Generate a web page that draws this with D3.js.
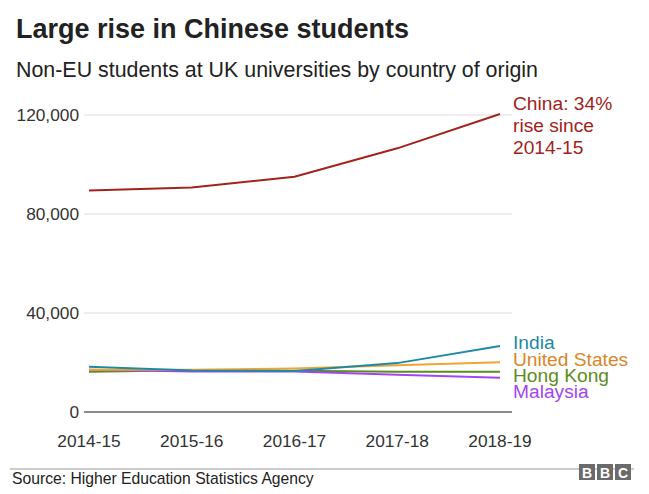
<!DOCTYPE html>
<html><head><meta charset="utf-8">
<script src="https://cdn.jsdelivr.net/npm/d3@7"></script>
<style>body{margin:0;background:#fff;font-family:"Liberation Sans",Arial,sans-serif;}</style>
</head><body><svg id="c" width="649" height="494"></svg>
<script>
const years = ["2014-15","2015-16","2016-17","2017-18","2018-19"];
const china = [89540, 90735, 95090, 106530, 120385];
const india = [18320, 16745, 16550, 19750, 26685];
const usa = [17060, 17115, 17580, 18885, 20120];
const hongKong = [16215, 16895, 16690, 16290, 16255];
const malaysia = [17060, 16370, 16370, 15015, 13885];
const yTicks = [0, 40000, 80000, 120000];

const series = [
  {name:"Hong Kong", values:hongKong, color:"#5b8c1c", label:["Hong Kong"], ly:382},
  {name:"Malaysia", values:malaysia, color:"#a346f0", label:["Malaysia"], ly:398},
  {name:"United States", values:usa, color:"#f0a532", lcolor:"#d9862a", label:["United States"], ly:366},
  {name:"India", values:india, color:"#1e8aa6", label:["India"], ly:349},
  {name:"China", values:china, color:"#a2231b", label:["China: 34%","rise since","2014-15"], ly:110}
];

const svg = d3.select("#c");
const x = d3.scalePoint().domain(years).range([89, 500]);
const y = d3.scaleLinear().domain([0, 120000]).range([412, 115]);

svg.append("text").attr("x",16).attr("y",38).attr("font-size",27).attr("font-weight","bold").attr("fill","#222").text("Large rise in Chinese students");
svg.append("text").attr("x",16).attr("y",77).attr("font-size",21.4).attr("fill","#222").text("Non-EU students at UK universities by country of origin");

const g = svg.append("g");
yTicks.forEach(t=>{
  g.append("line").attr("x1",84).attr("x2",512).attr("y1",y(t)).attr("y2",y(t))
   .attr("stroke", t===0 ? "#666" : "#dcdcdc").attr("stroke-width", t===0?1.3:1);
  g.append("text").attr("x",79).attr("y",y(t)+6).attr("text-anchor","end").attr("font-size",17.3).attr("fill","#333")
   .text(d3.format(",")(t));
});
years.forEach(yr=>{
  g.append("text").attr("x",x(yr)).attr("y",447).attr("text-anchor","middle").attr("font-size",17.3).attr("fill","#333").text(yr);
});

const line = d3.line().x((d,i)=>x(years[i])).y(d=>y(d));
series.forEach(s=>{
  svg.append("path").attr("d",line(s.values)).attr("fill","none").attr("stroke",s.color).attr("stroke-width",2);
  const t = svg.append("text").attr("x",513).attr("y",s.ly).attr("font-size",19.2).attr("fill",s.lcolor||s.color);
  s.label.forEach((l,i)=>t.append("tspan").attr("x",513).attr("dy",i?22:0).text(l));
});

svg.append("line").attr("x1",10).attr("x2",634).attr("y1",469).attr("y2",469).attr("stroke","#999").attr("stroke-width",1);
svg.append("text").attr("x",12).attr("y",484).attr("font-size",15.7).attr("fill","#222").text("Source: Higher Education Statistics Agency");
["B","B","C"].forEach((c,i)=>{
  const bx = 579 + i*18;
  svg.append("rect").attr("x",bx).attr("y",464).attr("width",16).attr("height",16).attr("fill","#6b6b6b");
  svg.append("text").attr("x",bx+8).attr("y",478).attr("text-anchor","middle").attr("font-size",14).attr("font-weight","bold").attr("fill","#fff").text(c);
});
</script></body></html>
